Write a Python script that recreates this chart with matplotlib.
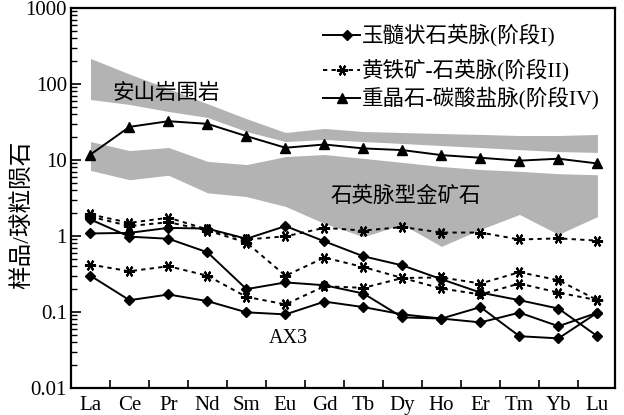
import matplotlib
matplotlib.use("Agg")
import matplotlib.pyplot as plt
from matplotlib.ticker import FixedLocator, NullFormatter, LogLocator
import numpy as np

plt.rcParams['font.family'] = ['Liberation Serif', 'Noto Sans CJK SC', 'DejaVu Sans']

elements = ['La', 'Ce', 'Pr', 'Nd', 'Sm', 'Eu', 'Gd', 'Tb', 'Dy', 'Ho', 'Er', 'Tm', 'Yb', 'Lu']

# Stage I: chalcedony quartz veins (three samples)
stage1_a = [1.08, 1.10, 1.28, 1.25, 0.92, 1.35, 0.85, 0.54, 0.41, 0.27, 0.18, 0.143, 0.111, 0.048]
stage1_b = [1.65, 0.98, 0.92, 0.61, 0.20, 0.245, 0.225, 0.175, 0.085, 0.082, 0.116, 0.048, 0.045, 0.098]
stage1_c = [0.30, 0.143, 0.17, 0.139, 0.099, 0.093, 0.137, 0.116, 0.093, 0.082, 0.073, 0.098, 0.065, 0.098]

# Stage II: pyrite-quartz veins (three samples)
stage2_a = [1.92, 1.49, 1.74, 1.22, 0.90, 0.99, 1.28, 1.18, 1.31, 1.11, 1.11, 0.90, 0.93, 0.87]
stage2_b = [1.80, 1.35, 1.52, 1.18, 0.82, 0.30, 0.52, 0.39, 0.28, 0.285, 0.237, 0.334, 0.262, 0.143]
stage2_c = [0.42, 0.344, 0.40, 0.30, 0.158, 0.126, 0.218, 0.208, 0.28, 0.204, 0.17, 0.237, 0.18, 0.143]

# Stage IV: barite-carbonate vein
stage4 = [11.8, 27.3, 32.4, 29.9, 20.6, 14.5, 16.0, 14.2, 13.5, 11.6, 10.7, 9.8, 10.4, 9.0]

# Envelope of andesite wall rock
andesite_hi = [217, 135, 87, 55, 35, 23, 26, 23.7, 23, 22.3, 21.7, 21, 21, 21.7]
andesite_lo = [62.5, 53.8, 43.5, 36.3, 23.7, 17.5, 18.6, 17.5, 16.5, 15.5, 14.6, 13.7, 12.9, 12.6]

# Envelope of quartz-vein type gold ore
ore_hi = [17.5, 13.3, 14.6, 9.6, 8.7, 11.1, 11.8, 10.5, 9.3, 8.2, 7.5, 7.1, 6.6, 6.4]
ore_lo = [7.3, 5.5, 6.3, 3.7, 3.3, 2.45, 1.46, 0.98, 1.42, 0.73, 1.22, 1.92, 1.05, 1.8]

y_ticks = [0.01, 0.1, 1, 10, 100, 1000]
y_tick_labels = ['0.01', '0.1', '1', '10', '100', '1000']

legend_labels = ['玉髓状石英脉(阶段I)', '黄铁矿-石英脉(阶段II)', '重晶石-碳酸盐脉(阶段IV)']

x = np.arange(len(elements))

fig = plt.figure(figsize=(6.24, 4.15), dpi=100)
ax = fig.add_axes([71 / 624, 1 - 388 / 415, (615 - 71) / 624, (388 - 8) / 415])
ax.set_yscale('log')
ax.set_ylim(0.01, 1000)
ax.set_xlim(-0.5, 13.45)

gray = '#b3b3b3'
ax.fill_between(x, andesite_lo, andesite_hi, color=gray, linewidth=0, zorder=1)
ax.fill_between(x, ore_lo, ore_hi, color=gray, linewidth=0, zorder=1)

solid_kw = dict(color='black', linewidth=1.4, marker='D', markersize=5.5, zorder=3)
dash_kw = dict(color='black', linewidth=1.4, linestyle=(0, (2.2, 2.2)),
               marker=(6, 2, 90), markersize=8, markeredgewidth=1.5, zorder=3)
tri_kw = dict(color='black', linewidth=1.4, marker='^', markersize=7.5, zorder=3)

for s in (stage1_a, stage1_b, stage1_c):
    ax.plot(x, s, **solid_kw)
for s in (stage2_a, stage2_b, stage2_c):
    ax.plot(x, s, **dash_kw)
ax.plot(x, stage4, **tri_kw)

# Axis ticks
ax.set_yticks(y_ticks)
ax.set_yticklabels(y_tick_labels)
ax.yaxis.set_minor_locator(LogLocator(base=10, subs=np.arange(2, 10)))
ax.yaxis.set_minor_formatter(NullFormatter())
ax.tick_params(axis='y', which='major', direction='in', length=7, width=1.2,
               labelsize=15, pad=3)
ax.tick_params(axis='y', which='minor', direction='in', length=4, width=1.0)

ax.set_xticks(x)
ax.set_xticklabels(elements)
ax.xaxis.set_minor_locator(FixedLocator(np.arange(0.5, 13, 1.0)))
ax.tick_params(axis='x', which='major', length=0, labelsize=15, pad=6)
ax.tick_params(axis='x', which='minor', direction='in', length=6, width=1.2)
ax.tick_params(top=False, right=False, which='both')

for sp in ax.spines.values():
    sp.set_linewidth(1.6)


def px(xp, yp):
    """Pixel position inside the figure -> axes fraction."""
    return ((xp - 71) / 544, (388 - yp) / 380)


# Text annotations
ax.text(*px(166, 94), '安山岩围岩', fontsize=15.5, ha='center', va='center',
        transform=ax.transAxes, zorder=4)
ax.text(*px(406, 197), '石英脉型金矿石', fontsize=15.5, ha='center', va='center',
        transform=ax.transAxes, zorder=4)
ax.text(*px(288, 338), 'AX3', fontsize=14.5, ha='center', va='center',
        transform=ax.transAxes, zorder=4)

# Legend drawn as individual rows
rows = [(35, 347, solid_kw), (70, 342, dash_kw), (98, 342, tri_kw)]
for (ry, mx, kw), label in zip(rows, legend_labels):
    x0, y0 = px(323, ry)
    x1, _ = px(360, ry)
    xm, _ = px(mx, ry)
    line_kw = {k: v for k, v in kw.items() if not k.startswith('marker')}
    ax.plot([x0, x1], [y0, y0], transform=ax.transAxes, **line_kw)
    mk = {k: v for k, v in kw.items() if k.startswith('marker')}
    ax.plot([xm], [y0], transform=ax.transAxes, color='black', linestyle='none',
            zorder=5, **mk)
    tx, _ = px(362, ry)
    ax.text(tx, y0, label, fontsize=15.5, ha='left', va='center',
            transform=ax.transAxes, zorder=5)

fig.text(22 / 624, 1 - 215 / 415, '样品/球粒陨石', rotation=90, fontsize=17,
         ha='center', va='center')

fig.savefig('out.png', dpi=100)
